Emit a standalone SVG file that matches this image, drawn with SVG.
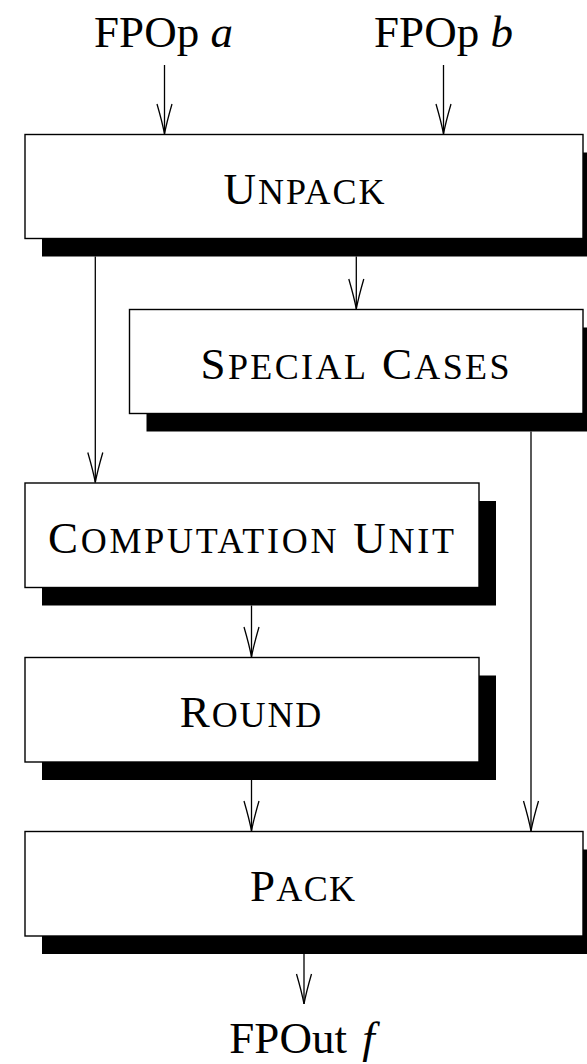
<svg xmlns="http://www.w3.org/2000/svg" width="587" height="1064" viewBox="0 0 587 1064">
  <style>
    .box { fill: #ffffff; stroke: #000000; stroke-width: 1.4; }
    .shadow { fill: #000000; }
    .label { font-family: "Liberation Serif", "Times New Roman", serif; font-size: 45px; fill: #000000; text-anchor: middle; }
    .sc { font-size: 36px; }
    .math { font-style: italic; }
    .wire { fill: none; stroke: #000000; stroke-width: 1.3; }
  </style>
  <defs>
    <!-- open "vee" arrowhead, 30 long, 15 wide -->
    <marker id="vee" viewBox="-32 -10 34 20" markerWidth="34" markerHeight="20" refX="0" refY="0" markerUnits="userSpaceOnUse" orient="auto" overflow="visible">
      <path d="M-30,-7.5 Q-11,-2 0,0 Q-11,2 -30,7.5" fill="none" stroke="#000000" stroke-width="1.3" stroke-linejoin="miter"/>
    </marker>
  </defs>
  <rect width="587" height="1064" fill="#ffffff"/>

  <!-- inputs / output -->
  <g id="in-a">
    <text class="label" x="163.5" y="47">FPOp <tspan class="math">a</tspan></text>
  </g>
  <g id="in-b">
    <text class="label" x="443.5" y="47">FPOp <tspan class="math">b</tspan></text>
  </g>
  <g id="out-f">
    <text class="label" x="302" y="1053">FPOut <tspan class="math" dx="4">f</tspan></text>
  </g>

  <!-- processing stages -->
  <g id="unpack">
    <rect class="shadow" x="42" y="152.5" width="558" height="104"/>
    <rect class="box" x="25" y="134.5" width="558" height="104"/>
    <text class="label" x="304" y="203.5" textLength="161" lengthAdjust="spacing">U<tspan class="sc">NPACK</tspan></text>
  </g>
  <g id="special-cases">
    <rect class="shadow" x="146.5" y="327.5" width="453.5" height="104"/>
    <rect class="box" x="129.5" y="309.5" width="453.5" height="104"/>
    <text class="label" x="355" y="378.8" textLength="309" lengthAdjust="spacing">S<tspan class="sc">PECIAL</tspan> C<tspan class="sc">ASES</tspan></text>
  </g>
  <g id="computation-unit">
    <rect class="shadow" x="42" y="501" width="454" height="104.5"/>
    <rect class="box" x="25" y="483" width="454" height="104.5"/>
    <text class="label" x="251" y="552.6" textLength="406" lengthAdjust="spacing">C<tspan class="sc">OMPUTATION</tspan> U<tspan class="sc">NIT</tspan></text>
  </g>
  <g id="round">
    <rect class="shadow" x="42" y="675.5" width="454" height="104.5"/>
    <rect class="box" x="25" y="657.5" width="454" height="104.5"/>
    <text class="label" x="250.5" y="726.6" textLength="141.5" lengthAdjust="spacing">R<tspan class="sc">OUND</tspan></text>
  </g>
  <g id="pack">
    <rect class="shadow" x="42" y="849.5" width="558" height="104.5"/>
    <rect class="box" x="25" y="831.5" width="558" height="104.5"/>
    <text class="label" x="302.5" y="900.6" textLength="105" lengthAdjust="spacing">P<tspan class="sc">ACK</tspan></text>
  </g>

  <!-- data flow -->
  <g id="connectors">
    <line class="wire" x1="164.5" y1="65" x2="164.5" y2="134" marker-end="url(#vee)"/>
    <line class="wire" x1="443.5" y1="65" x2="443.5" y2="134" marker-end="url(#vee)"/>
    <line class="wire" x1="95.3" y1="256.5" x2="95.3" y2="482.5" marker-end="url(#vee)"/>
    <line class="wire" x1="356.3" y1="256.5" x2="356.3" y2="309" marker-end="url(#vee)"/>
    <line class="wire" x1="531" y1="431.5" x2="531" y2="831" marker-end="url(#vee)"/>
    <line class="wire" x1="251.5" y1="605.5" x2="251.5" y2="657" marker-end="url(#vee)"/>
    <line class="wire" x1="251.5" y1="780" x2="251.5" y2="831" marker-end="url(#vee)"/>
    <line class="wire" x1="304" y1="954" x2="304" y2="1004" marker-end="url(#vee)"/>
  </g>
</svg>
